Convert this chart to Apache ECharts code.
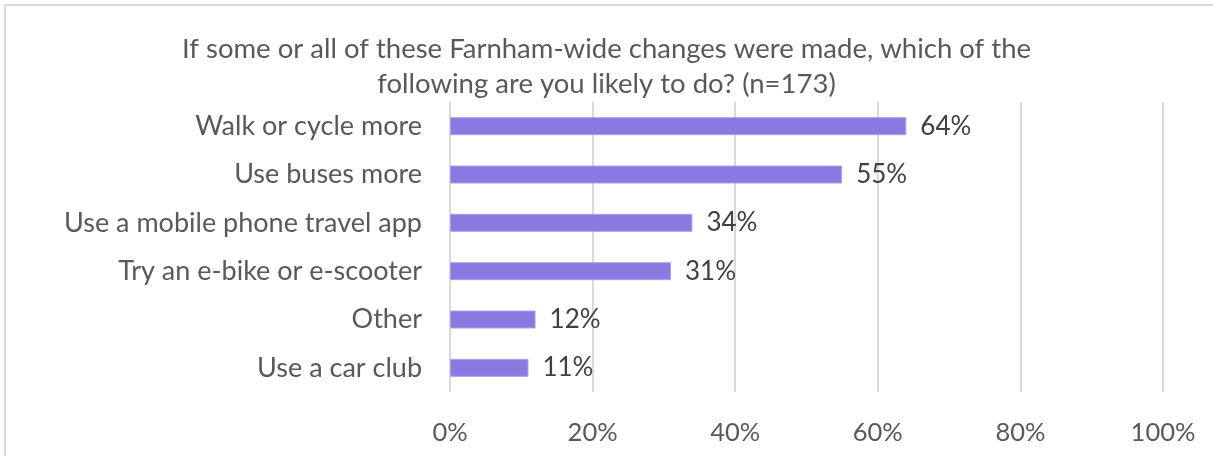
<!DOCTYPE html>
<html>
<head>
<meta charset="utf-8">
<script src="https://cdn.jsdelivr.net/npm/echarts@6/dist/echarts.min.js"></script>
<style>
  html, body { margin: 0; padding: 0; background: #ffffff; overflow: hidden; }
  #frame {
    position: absolute; left: 4px; top: 4px; width: 1300px; height: 600px;
    border-left: 2px solid #d9d9d9; border-top: 2px solid #d9d9d9;
    box-sizing: border-box;
  }
  #chart { position: absolute; left: 0; top: 0; width: 1213px; height: 456px; }
</style>
</head>
<body>
<div id="frame"></div>
<div id="chart"></div>
<script>
// Survey answers (share of respondents, %)
const categories = [
  'Walk or cycle more',
  'Use buses more',
  'Use a mobile phone travel app',
  'Try an e-bike or e-scooter',
  'Other',
  'Use a car club'
];
const shares = [64, 55, 34, 31, 12, 11];
const titleText = 'If some or all of these Farnham-wide changes were made, which of the\nfollowing are you likely to do? (n=173)';

const FONT = 'Lato, "Open Sans", sans-serif';
const chart = echarts.init(document.getElementById('chart'), null, { renderer: 'canvas' });

chart.setOption({
  animation: false,
  backgroundColor: 'transparent',
  title: {
    text: titleText,
    left: 'center',
    top: 27,
    textStyle: {
      fontFamily: FONT, fontSize: 27.5, fontWeight: 'normal',
      color: '#595959', lineHeight: 35
    }
  },
  grid: { left: 450, right: 50, top: 102, bottom: 64, containLabel: false },
  xAxis: {
    type: 'value',
    min: 0, max: 100, interval: 20,
    axisLine: { show: false },
    axisTick: { show: false },
    splitLine: { lineStyle: { color: '#d9d9d9', width: 2 } },
    axisLabel: {
      formatter: '{value}%', margin: 28,
      fontFamily: FONT, fontSize: 25.5, color: '#595959'
    }
  },
  yAxis: {
    type: 'category',
    data: categories,
    inverse: true,
    axisLine: { show: false },
    axisTick: { show: false },
    axisLabel: {
      margin: 28,
      fontFamily: FONT, fontSize: 27, color: '#595959'
    }
  },
  series: [{
    type: 'bar',
    data: shares,
    barWidth: 18,
    itemStyle: { color: '#8b78e0', borderColor: '#ad9fec', borderWidth: 1 },
    label: {
      show: true, position: 'right', distance: 14,
      formatter: '{c}%',
      fontFamily: FONT, fontSize: 26, color: '#404040'
    }
  }]
});
</script>
</body>
</html>
